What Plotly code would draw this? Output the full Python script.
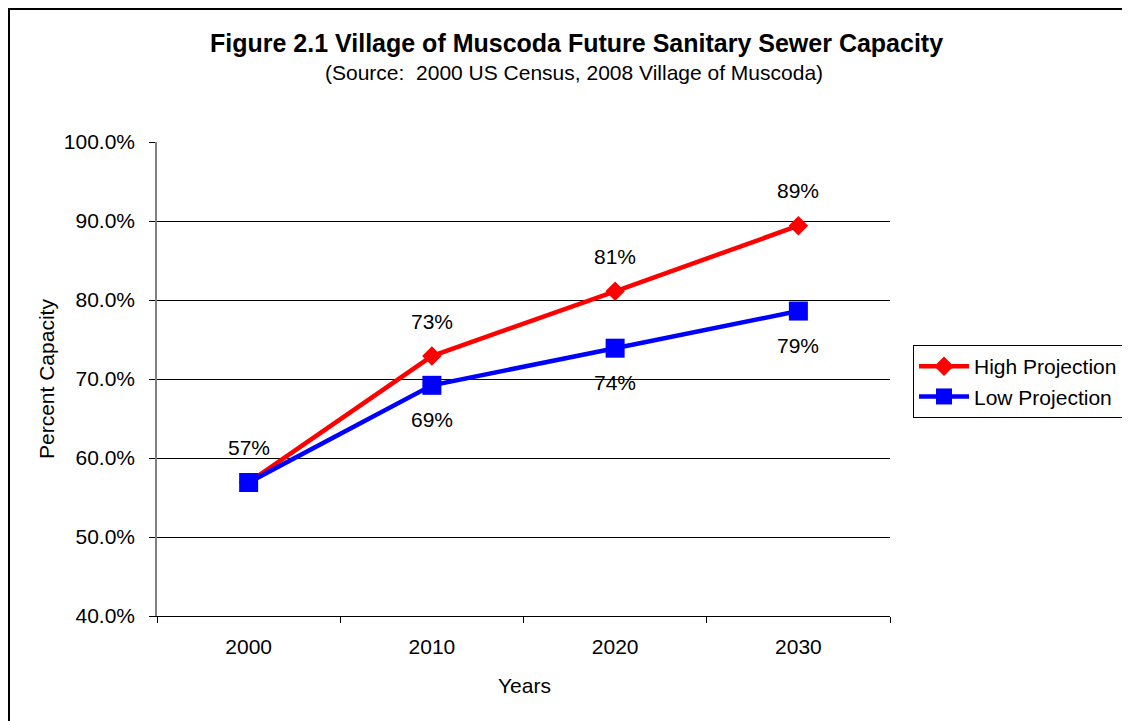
import plotly.graph_objects as go

years = ["2000", "2010", "2020", "2030"]
high_vals = [0.569, 0.729, 0.811, 0.894]
low_vals = [0.569, 0.692, 0.739, 0.786]
high_labels = ["57%", "73%", "81%", "89%"]
low_labels = ["", "69%", "74%", "79%"]
y_ticks = [0.4, 0.5, 0.6, 0.7, 0.8, 0.9, 1.0]

FONT = "Liberation Sans, Arial, sans-serif"
W, H = 1130, 721
OFF = 8  # page body margin
PX0, PX1, PY0, PY1 = 157, 890, 142, 616  # plot area in screenshot pixels
L, R, T, B = PX0 - OFF, W - (PX1 - OFF), PY0 - OFF, H - (PY1 - OFF)
PW, PH = PX1 - PX0, PY1 - PY0


def px(X):
    return (X - PX0) / PW


def py(Y):
    return (PY1 - Y) / PH


fig = go.Figure()
fig.add_trace(go.Scatter(
    x=years, y=high_vals, name="High Projection", mode="lines+markers",
    line=dict(color="#FF0000", width=4.5),
    marker=dict(symbol="diamond", size=15, color="#FF0000"),
))
fig.add_trace(go.Scatter(
    x=years, y=low_vals, name="Low Projection", mode="lines+markers",
    line=dict(color="#0000FF", width=4.5),
    marker=dict(symbol="square", size=19, color="#0000FF"),
))

annotations = []
for i, (y, t) in enumerate(zip(high_vals, high_labels)):
    if t:
        annotations.append(dict(x=i, y=y, xref="x", yref="y", text=t, showarrow=False, yshift=35,
                                font=dict(size=21, color="#000000", family=FONT)))
for i, (y, t) in enumerate(zip(low_vals, low_labels)):
    if t:
        annotations.append(dict(x=i, y=y, xref="x", yref="y", text=t, showarrow=False, yshift=-34,
                                font=dict(size=21, color="#000000", family=FONT)))

# titles
annotations.append(dict(xref="paper", yref="paper", x=px(576), y=py(43),
                        text="<b>Figure 2.1 Village of Muscoda Future Sanitary Sewer Capacity</b>",
                        showarrow=False, xanchor="center", yanchor="middle",
                        font=dict(size=25, color="#000000", family=FONT)))
annotations.append(dict(xref="paper", yref="paper", x=px(574), y=py(72),
                        text="(Source:  2000 US Census, 2008 Village of Muscoda)",
                        showarrow=False, xanchor="center", yanchor="middle",
                        font=dict(size=21, color="#000000", family=FONT)))
annotations.append(dict(xref="paper", yref="paper", x=px(524), y=py(685),
                        text="Years", showarrow=False, xanchor="center", yanchor="middle",
                        font=dict(size=21, color="#000000", family=FONT)))
annotations.append(dict(xref="paper", yref="paper", x=px(46), y=py(379),
                        text="Percent Capacity", showarrow=False, textangle=-90,
                        xanchor="center", yanchor="middle",
                        font=dict(size=21, color="#000000", family=FONT)))

fig.update_layout(
    width=W, height=H,
    margin=dict(l=L, r=R, t=T, b=B),
    paper_bgcolor="white", plot_bgcolor="white",
    font=dict(family=FONT, size=21, color="#000000"),
    showlegend=True,
    legend=dict(
        x=px(913), y=py(345),
        xanchor="left", yanchor="top",
        bordercolor="#000000", borderwidth=1, bgcolor="white",
        font=dict(size=21, family=FONT, color="#000000"),
        itemwidth=50, tracegroupgap=0,
    ),
    annotations=annotations,
    shapes=[dict(type="rect", xref="paper", yref="paper",
                 x0=px(9), x1=px(1160),
                 y0=py(760), y1=py(9),
                 line=dict(color="#000000", width=2), layer="below")],
)

fig.update_xaxes(
    type="category", range=[-0.5, 3.5],
    showline=True, linecolor="#000000", linewidth=1,
    ticks="outside", tickson="boundaries", ticklen=6, tickcolor="#000000",
    showgrid=False, zeroline=False,
    tickfont=dict(size=21, family=FONT, color="#000000"),
    ticklabelstandoff=12,
)
fig.update_yaxes(
    range=[0.4, 1.0], tickvals=y_ticks, tickformat=".1%",
    showline=True, linecolor="#808080", linewidth=1.5,
    ticks="outside", ticklen=6, tickcolor="#000000",
    showgrid=True, gridcolor="#000000", gridwidth=1,
    zeroline=False,
    tickfont=dict(size=21, family=FONT, color="#000000"),
    ticklabelstandoff=10,
)

fig.write_html("out.html")
